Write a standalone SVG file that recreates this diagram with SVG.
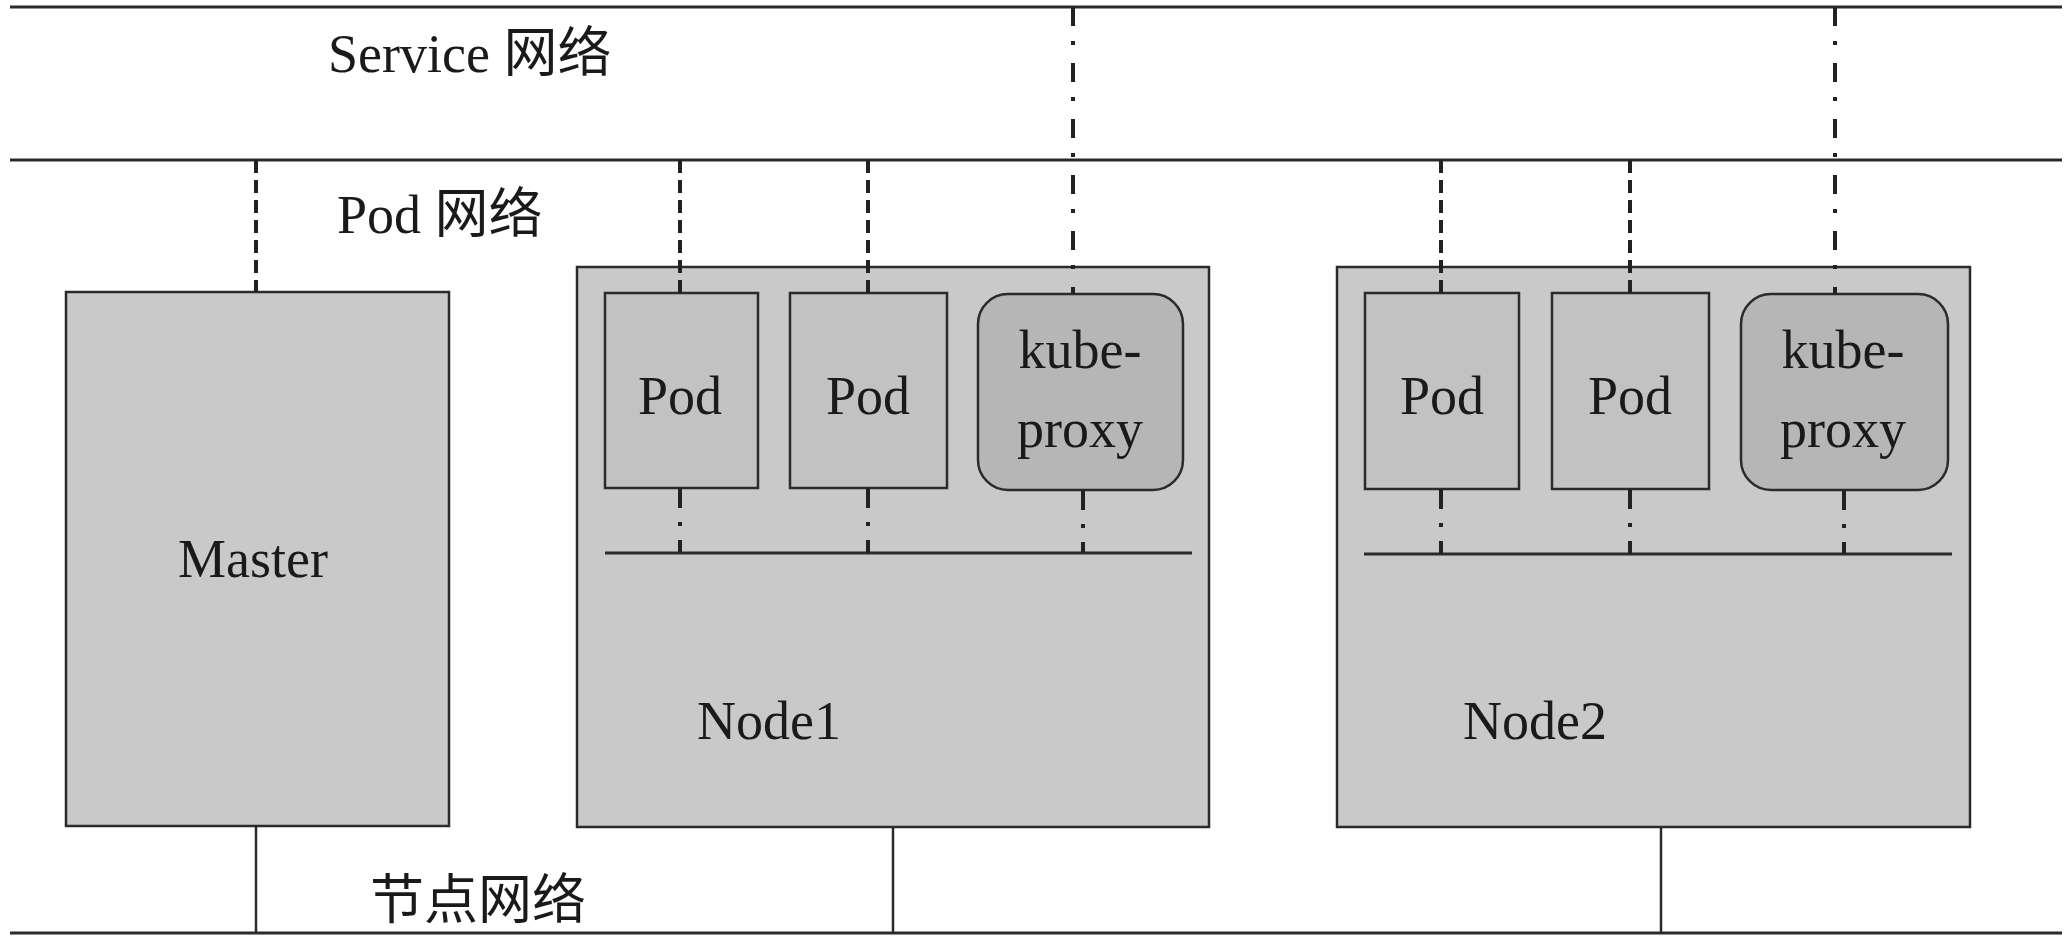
<svg xmlns="http://www.w3.org/2000/svg" width="2066" height="948" viewBox="0 0 2066 948">
  <style>
    .net { stroke: #2b2b2b; stroke-width: 3; fill: none; }
    .box { fill: #c9c9c9; stroke: #2b2b2b; stroke-width: 2.5; }
    .pod { fill: #c2c2c2; stroke: #2b2b2b; stroke-width: 2.5; }
    .proxy { fill: #b6b6b6; stroke: #2b2b2b; stroke-width: 2.5; }
    .inner { stroke: #2b2b2b; stroke-width: 3; fill: none; }
    .dash { stroke: #222; stroke-width: 4; fill: none; stroke-dasharray: 13 7; }
    .dashdot { stroke: #222; stroke-width: 4; fill: none; stroke-dasharray: 19 15 4 18; }
    .short { stroke: #222; stroke-width: 4; fill: none; stroke-dasharray: 20 14 4 14; }
    .solid { stroke: #2b2b2b; stroke-width: 2.5; fill: none; }
    text { font-family: "Liberation Serif", "Noto Sans CJK SC", serif; font-size: 54px; fill: #1a1a1a; }
    .c { text-anchor: middle; }
  </style>

  <rect x="0" y="0" width="2066" height="948" fill="#ffffff"/>

  <g id="service-network">
    <line class="net" x1="10" y1="7" x2="2062" y2="7"/>
    <text x="328" y="72">Service 网络</text>
  </g>

  <g id="pod-network">
    <line class="net" x1="10" y1="160" x2="2062" y2="160"/>
    <text x="337" y="233">Pod 网络</text>
  </g>

  <g id="node-network">
    <line class="net" x1="10" y1="933" x2="2062" y2="933"/>
    <text x="370" y="919">节点网络</text>
  </g>

  <g id="master">
    <rect class="box" x="66" y="292" width="383" height="534"/>
    <text class="c" x="253" y="577">Master</text>
  </g>

  <g id="node1">
    <rect class="box" x="577" y="267" width="632" height="560"/>
    <line class="inner" x1="605" y1="553" x2="1192" y2="553"/>
    <text class="c" x="769" y="739">Node1</text>
  </g>
  <g id="node1-pod1">
    <rect class="pod" x="605" y="293" width="153" height="195"/>
    <text class="c" x="680" y="414">Pod</text>
  </g>
  <g id="node1-pod2">
    <rect class="pod" x="790" y="293" width="157" height="195"/>
    <text class="c" x="868" y="414">Pod</text>
  </g>
  <g id="node1-kube-proxy">
    <rect class="proxy" x="978" y="294" width="205" height="196" rx="30" ry="30"/>
    <text class="c" x="1080" y="368">kube-</text>
    <text class="c" x="1080" y="447">proxy</text>
  </g>

  <g id="node2">
    <rect class="box" x="1337" y="267" width="633" height="560"/>
    <line class="inner" x1="1364" y1="554" x2="1952" y2="554"/>
    <text class="c" x="1535" y="739">Node2</text>
  </g>
  <g id="node2-pod1">
    <rect class="pod" x="1365" y="293" width="154" height="196"/>
    <text class="c" x="1442" y="414">Pod</text>
  </g>
  <g id="node2-pod2">
    <rect class="pod" x="1552" y="293" width="157" height="196"/>
    <text class="c" x="1630" y="414">Pod</text>
  </g>
  <g id="node2-kube-proxy">
    <rect class="proxy" x="1741" y="294" width="207" height="196" rx="30" ry="30"/>
    <text class="c" x="1843" y="368">kube-</text>
    <text class="c" x="1843" y="447">proxy</text>
  </g>

  <g id="connectors">
    <!-- Master -->
    <line class="dash" x1="256" y1="160" x2="256" y2="292"/>
    <line class="solid" x1="256" y1="826" x2="256" y2="933"/>
    <!-- Node1 -->
    <line class="dash" x1="680" y1="160" x2="680" y2="293"/>
    <line class="dash" x1="868" y1="160" x2="868" y2="293"/>
    <line class="dashdot" x1="1073" y1="7" x2="1073" y2="294"/>
    <line class="short" x1="680" y1="488" x2="680" y2="553"/>
    <line class="short" x1="868" y1="488" x2="868" y2="553"/>
    <line class="short" x1="1083" y1="490" x2="1083" y2="553"/>
    <line class="solid" x1="893" y1="827" x2="893" y2="933"/>
    <!-- Node2 -->
    <line class="dash" x1="1441" y1="160" x2="1441" y2="293"/>
    <line class="dash" x1="1630" y1="160" x2="1630" y2="293"/>
    <line class="dashdot" x1="1835" y1="7" x2="1835" y2="294"/>
    <line class="short" x1="1441" y1="489" x2="1441" y2="554"/>
    <line class="short" x1="1630" y1="489" x2="1630" y2="554"/>
    <line class="short" x1="1844" y1="490" x2="1844" y2="554"/>
    <line class="solid" x1="1661" y1="827" x2="1661" y2="933"/>
  </g>
</svg>
